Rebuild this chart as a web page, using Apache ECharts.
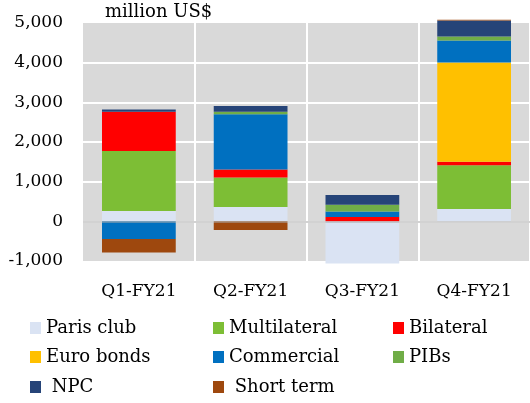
<!DOCTYPE html>
<html>
<head>
<meta charset="utf-8">
<script src="https://cdn.jsdelivr.net/npm/echarts@6/dist/echarts.min.js"></script>
<style>html,body{margin:0;padding:0;background:#fff}#c{width:530px;height:403px}</style>
</head>
<body>
<div id="c"></div>
<script>
const categories = ['Q1-FY21', 'Q2-FY21', 'Q3-FY21', 'Q4-FY21'];
const seriesNames = ['Paris club', 'Multilateral', 'Bilateral', 'Euro bonds', 'Commercial', 'PIBs', 'NPC', 'Short term'];
const parisClub = [260, 360, -1065, 312];
const multilateral = [1510, 745, 0, 1100];
const bilateral = [990, 200, 110, 93];
const euroBonds = [0, 0, 0, 2500];
const commercial = [-445, 1395, 140, 555];
const pibs = [0, 60, 170, 100];
const npc = [60, 150, 245, 400];
const shortTerm = [-340, -220, 0, 25];
const yMin = -1000, yMax = 5000, yStep = 1000;
const unitLabel = 'million US$';

const seriesData = [parisClub, multilateral, bilateral, euroBonds, commercial, pibs, npc, shortTerm];
const colors = ['#DAE3F3', '#7DBE35', '#FF0000', '#FFC000', '#0070C0', '#70AD47', '#264478', '#9E480E'];
const FONT = '"DejaVu Serif", serif';

const legendCols = [30, 213, 393];
const legendRows = [318, 347, 377];
const legends = seriesNames.map((n, i) => ({
  data: [n],
  left: legendCols[i % 3],
  top: legendRows[Math.floor(i / 3)],
  padding: 0,
  icon: 'rect',
  itemWidth: 11,
  itemHeight: 12,
  selectedMode: false,
  formatter: name => (name === 'NPC' || name === 'Short term') ? ' ' + name : name,
  textStyle: { fontFamily: FONT, fontSize: 18, color: '#000', lineHeight: 20 }
}));

const series = seriesNames.map((n, i) => ({
  name: n,
  type: 'bar',
  stack: 'total',
  data: seriesData[i],
  barWidth: '66%',
  clip: false,
  itemStyle: { color: colors[i] },
  emphasis: { disabled: true }
}));
series[series.length - 1].markLine = {
  silent: true,
  symbol: ['none', 'none'],
  label: { show: false },
  lineStyle: { color: 'rgba(170,170,170,0.7)', width: 1.5, type: 'solid' },
  data: [{ yAxis: 0 }]
};

const option = {
  animation: false,
  color: colors,
  grid: { left: 83, right: 0, top: 23, bottom: 142, show: true, backgroundColor: '#D9D9D9', borderWidth: 0, containLabel: false },
  legend: legends,
  graphic: [{
    type: 'text', left: 105, top: 3,
    style: { text: unitLabel, font: '18px ' + FONT, fill: '#000' }
  }],
  xAxis: {
    type: 'category',
    data: categories,
    axisLine: { show: false, onZero: false },
    axisTick: { show: false },
    splitLine: { show: true, showMinLine: false, lineStyle: { color: '#fff', width: 2 } },
    axisLabel: { fontFamily: FONT, fontSize: 17, color: '#000', margin: 22 }
  },
  yAxis: {
    type: 'value',
    min: yMin, max: yMax, interval: yStep,
    axisLine: { show: false },
    axisTick: { show: false },
    splitLine: { show: true, showMinLine: false, showMaxLine: false, lineStyle: { color: '#fff', width: 2 } },
    axisLabel: {
      fontFamily: FONT, fontSize: 17, color: '#000', margin: 20,
      formatter: v => v.toLocaleString('en-US')
    }
  },
  series: series
};
echarts.init(document.getElementById('c')).setOption(option);
</script>
</body>
</html>
